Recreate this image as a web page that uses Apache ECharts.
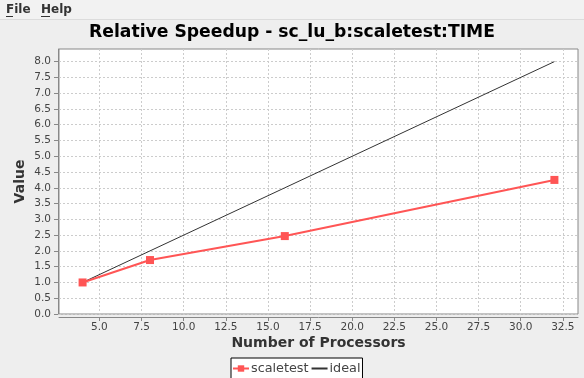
<!DOCTYPE html>
<html>
<head>
<meta charset="utf-8">
<title>Relative Speedup</title>
<script src="https://cdn.jsdelivr.net/npm/echarts@6/dist/echarts.min.js"></script>
<style>
  html, body { margin: 0; padding: 0; background: #eeeeee; }
  #chart { width: 584px; height: 378px; }
</style>
</head>
<body>
<div id="chart"></div>
<script>
// Speedup measurements, by processor count
const processors = [4, 8, 16, 32];
const scaletest = [1.0, 1.71, 2.47, 4.25];
const ideal = [1, 2, 4, 8];

// Axis tick positions
const xTicks = [5.0, 7.5, 10.0, 12.5, 15.0, 17.5, 20.0, 22.5, 25.0, 27.5, 30.0, 32.5];
const yTicks = [0.0, 0.5, 1.0, 1.5, 2.0, 2.5, 3.0, 3.5, 4.0, 4.5, 5.0, 5.5, 6.0, 6.5, 7.0, 7.5, 8.0];

const FONT = '"DejaVu Sans", Verdana, sans-serif';

const chart = echarts.init(document.getElementById('chart'), null, { renderer: 'canvas' });

const gridLine = { show: true, lineStyle: { color: '#cccccc', type: [2, 2], width: 1 } };

chart.setOption({
  backgroundColor: '#eeeeee',
  animation: false,
  textStyle: { fontFamily: FONT },
  title: {
    text: 'Relative Speedup - sc_lu_b:scaletest:TIME',
    left: 'center',
    top: 24,
    padding: 0,
    textStyle: { fontFamily: FONT, fontSize: 17.2, fontWeight: 'bold', color: '#000' }
  },
  graphic: [
    // menu bar
    { type: 'rect', shape: { x: 0, y: 0, width: 584, height: 20 },
      style: { fill: '#f2f2f2' }, silent: true },
    { type: 'line', shape: { x1: 0, y1: 19.5, x2: 584, y2: 19.5 },
      style: { stroke: '#dcdcdc', lineWidth: 1 }, silent: true },
    { type: 'text', x: 6, y: 10,
      style: { text: 'File', font: 'bold 12px ' + FONT, fill: '#333', verticalAlign: 'middle' } },
    { type: 'text', x: 41, y: 10,
      style: { text: 'Help', font: 'bold 12px ' + FONT, fill: '#333', verticalAlign: 'middle' } },
    { type: 'line', shape: { x1: 6, y1: 16.5, x2: 13, y2: 16.5 },
      style: { stroke: '#333', lineWidth: 1 }, silent: true },
    { type: 'line', shape: { x1: 41, y1: 16.5, x2: 50, y2: 16.5 },
      style: { stroke: '#333', lineWidth: 1 }, silent: true }
  ],
  legend: {
    data: [
      { name: 'scaletest' },
      { name: 'ideal', itemStyle: { opacity: 0 } }
    ],
    left: 231,
    top: 358,
    orient: 'horizontal',
    padding: [4, 2, 6, 1],
    itemGap: 2,
    itemWidth: 16,
    itemHeight: 8,
    borderColor: '#000',
    borderWidth: 1,
    borderRadius: 0,
    backgroundColor: '#ffffff',
    textStyle: { fontFamily: FONT, fontSize: 12.8, color: '#444', padding: [0, 0, 0, -3] }
  },
  grid: {
    left: 59,
    right: 6,
    top: 49,
    bottom: 64,
    show: true,
    backgroundColor: '#ffffff',
    borderColor: '#888888',
    borderWidth: 1
  },
  xAxis: {
    type: 'value',
    min: 2.6,
    max: 33.4,
    offset: 3,
    name: 'Number of Processors',
    nameLocation: 'middle',
    nameGap: 19,
    nameMoveOverlap: false,
    nameTextStyle: { fontFamily: FONT, fontSize: 14, fontWeight: 'bold', color: '#333' },
    axisLine: { show: true, onZero: false, lineStyle: { color: '#888', width: 1 } },
    axisTick: { show: true, length: 4, customValues: xTicks, lineStyle: { color: '#888' } },
    axisLabel: {
      customValues: xTicks,
      margin: 5,
      fontFamily: FONT, fontSize: 10.5, color: '#444',
      formatter: v => v.toFixed(1)
    },
    splitLine: gridLine
  },
  yAxis: {
    type: 'value',
    min: 0,
    max: 8.4,
    offset: 1,
    name: 'Value',
    nameLocation: 'middle',
    nameGap: 31,
    nameMoveOverlap: false,
    nameTextStyle: { fontFamily: FONT, fontSize: 14, fontWeight: 'bold', color: '#333' },
    axisLine: { show: true, lineStyle: { color: '#888', width: 1 } },
    axisTick: { show: true, length: 4, customValues: yTicks, lineStyle: { color: '#888' } },
    axisLabel: {
      customValues: yTicks,
      margin: 7,
      fontFamily: FONT, fontSize: 10.5, color: '#444',
      formatter: v => v.toFixed(1)
    },
    splitLine: gridLine
  },
  series: [
    {
      name: 'scaletest',
      type: 'line',
      data: processors.map((p, i) => [p, scaletest[i]]),
      color: '#ff5555',
      lineStyle: { color: '#ff5555', width: 2 },
      itemStyle: { color: '#ff5555' },
      symbol: 'rect',
      symbolSize: 8,
      showAllSymbol: true,
      z: 3
    },
    {
      name: 'ideal',
      type: 'line',
      data: processors.map((p, i) => [p, ideal[i]]),
      color: '#333333',
      lineStyle: { color: '#333333', width: 1 },
      itemStyle: { color: '#333333' },
      symbol: 'none',
      z: 2
    }
  ]
});
</script>
</body>
</html>
